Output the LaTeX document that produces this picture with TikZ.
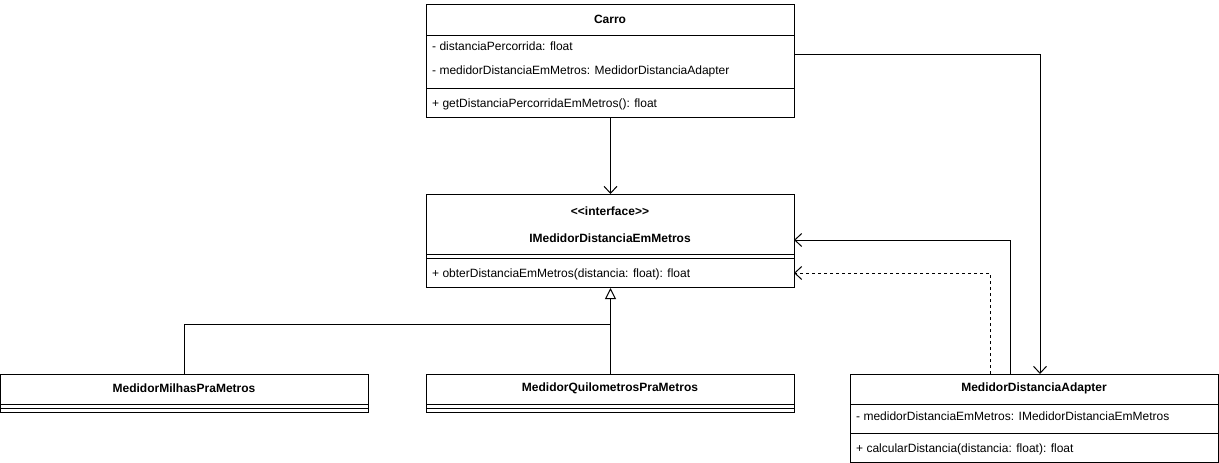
\documentclass[tikz,border=0pt]{standalone}
\usepackage{fontspec}
\setmainfont{Liberation Sans}
\usetikzlibrary{arrows.meta}
\begin{document}
\begin{tikzpicture}[x=1pt,y=-1pt,
  box/.style={draw=black,line width=1pt,fill=white,inner sep=0pt,anchor=north west},
  title/.style={font=\fontsize{12}{14}\selectfont\bfseries,inner sep=0pt},
  attr/.style={font=\fontsize{12}{14}\selectfont,inner sep=0pt,anchor=west},
  sep/.style={line width=1pt},
  assoc/.style={line width=1pt,-{Straight Barb[length=7pt,width=13pt,line width=1pt]}},
  inh/.style={line width=1pt,-{Triangle[open,length=11pt,width=11pt,line width=1pt,fill=white]}}]
\useasboundingbox[fill=white] (0,0) rectangle (1219,463);

% Carro
\node[box,minimum width=368pt,minimum height=113pt] (carro) at (426,4) {};
\node[title] (carroT) at (610,19) {Carro};
\draw[sep] (426,35) coordinate (cs1a) -- (794,35) coordinate (cs1b);
\node[attr] (carroA1) at (432,46) {- distanciaPercorrida: float};
\node[attr] (carroA2) at (432,71) {- medidorDistanciaEmMetros: MedidorDistanciaAdapter};
\draw[sep] (426,88) coordinate (cs2a) -- (794,88) coordinate (cs2b);
\node[attr] (carroM1) at (432,104) {+ getDistanciaPercorridaEmMetros(): float};

% Interface
\node[box,minimum width=368pt,minimum height=93pt] (iface) at (426,194) {};
\node[title] (ifS) at (610,211) {<{}<interface>{}>};
\node[title] (ifT) at (610,238) {IMedidorDistanciaEmMetros};
\draw[sep] (426,254) coordinate (is1a) -- (794,254) coordinate (is1b);
\draw[sep] (426,258) coordinate (is2a) -- (794,258) coordinate (is2b);
\node[attr] (ifM1) at (432,274) {+ obterDistanciaEmMetros(distancia: float): float};

% Milhas
\node[box,minimum width=368pt,minimum height=38pt] (milhas) at (0,374) {};
\node[title] (milT) at (184,388) {MedidorMilhasPraMetros};
\draw[sep] (0,404) coordinate (ms1a) -- (368,404) coordinate (ms1b);
\draw[sep] (0,408) coordinate (ms2a) -- (368,408) coordinate (ms2b);

% Quilometros
\node[box,minimum width=368pt,minimum height=38pt] (quilo) at (426,374) {};
\node[title] (quiT) at (610,388) {MedidorQuilometrosPraMetros};
\draw[sep] (426,404) coordinate (qs1a) -- (794,404) coordinate (qs1b);
\draw[sep] (426,408) coordinate (qs2a) -- (794,408) coordinate (qs2b);

% Adapter
\node[box,minimum width=368pt,minimum height=88pt] (adapter) at (850,374) {};
\node[title] (adT) at (1034,388) {MedidorDistanciaAdapter};
\draw[sep] (850,404) coordinate (as1a) -- (1218,404) coordinate (as1b);
\node[attr] (adA1) at (856,416) {- medidorDistanciaEmMetros: IMedidorDistanciaEmMetros};
\draw[sep] (850,433) coordinate (as2a) -- (1218,433) coordinate (as2b);
\node[attr] (adM1) at (856,449) {+ calcularDistancia(distancia: float): float};

% connectors
\coordinate (carroOut) at (794,54);
\coordinate (adIn) at (1040,374);
\coordinate (adOut1) at (1010,374);
\coordinate (ifIn1) at (794,240);
\coordinate (adOut2) at (990,374);
\coordinate (ifIn2) at (794,273);
\coordinate (junc) at (610,324);

\draw[assoc] (carro.south) -- (iface.north);
\draw[assoc] (carroOut) -| (adIn);
\draw[assoc] (adOut1) |- (ifIn1);
\draw[assoc,dashed,dash pattern=on 3pt off 3pt] (adOut2) |- (ifIn2);
\draw[inh] (quilo.north) -- (iface.south);
\draw[line width=1pt] (milhas.north) |- (junc);
\end{tikzpicture}
\end{document}
